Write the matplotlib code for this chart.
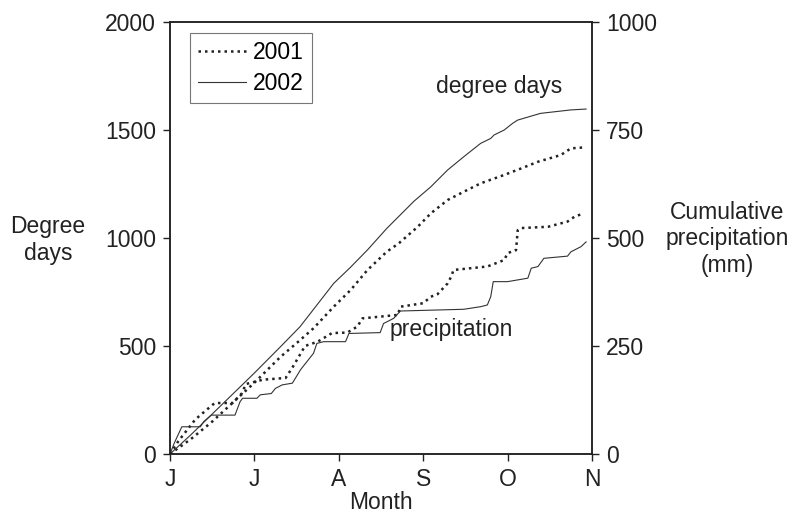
import matplotlib
matplotlib.use("Agg")
import matplotlib.pyplot as plt
from matplotlib.lines import Line2D

plt.rcParams['font.family'] = ['Liberation Sans', 'DejaVu Sans']

# x positions in months from 1 June (0 = J, 1 = J, 2 = A, 3 = S, 4 = O, 5 = N)
month_ticks = [0, 1, 2, 3, 4, 5]
month_labels = ["J", "J", "A", "S", "O", "N"]

# Degree days (left axis)
dd2001_x = [0, 0.25, 0.5, 0.75, 1.0, 1.31, 1.52, 1.70, 1.94, 2.14, 2.34, 2.57, 2.71, 2.93, 3.09, 3.29,
            3.48, 3.68, 3.96, 4.16, 4.36, 4.63, 4.75, 4.93]
dd2001_y = [0, 70, 150, 240, 330, 450, 520, 582, 682, 759, 852, 937, 975, 1050, 1114, 1176,
            1214, 1253, 1292, 1322, 1353, 1384, 1415, 1420]

dd2002_x = [0, 0.25, 0.5, 0.75, 1.0, 1.31, 1.54, 1.94, 2.14, 2.34, 2.57, 2.89, 3.09, 3.29, 3.48, 3.68,
            3.8, 3.84, 3.96, 4.06, 4.12, 4.39, 4.75, 4.93]
dd2002_y = [0, 90, 185, 280, 375, 497, 589, 790, 865, 945, 1045, 1170, 1237, 1315, 1376, 1438,
            1461, 1477, 1500, 1531, 1546, 1577, 1593, 1597]

# Cumulative precipitation, mm (right axis)
pr2001_x = [0, 0.1, 0.2, 0.3, 0.42, 0.53, 0.74, 0.85, 0.9, 1.1, 1.37, 1.45, 1.6, 1.75, 1.92, 2.1, 2.22, 2.28,
            2.49, 2.7, 2.73, 3.0, 3.09, 3.17, 3.29, 3.33, 3.36, 3.76, 3.96, 4.0, 4.1, 4.12, 4.16, 4.48,
            4.71, 4.79, 4.9]
pr2001_y = [0, 30, 55, 80, 100, 118, 118, 140, 162, 172, 176, 200, 250, 260, 280, 281, 295, 314,
            318, 322, 341, 349, 364, 370, 395, 410, 426, 434, 449, 465, 472, 518, 523, 526,
            538, 549, 557]

pr2002_x = [0, 0.05, 0.14, 0.36, 0.4, 0.49, 0.77, 0.83, 0.86, 1.03, 1.07, 1.2, 1.25, 1.33, 1.45, 1.55, 1.70,
            1.74, 1.82, 2.08, 2.12, 2.49, 2.53, 2.65, 2.73, 3.48, 3.68, 3.76, 3.8, 3.83, 4.0, 4.24, 4.28,
            4.36, 4.43, 4.71, 4.75, 4.87, 4.93]
pr2002_y = [0, 25, 63, 63, 75, 90, 90, 121, 129, 129, 137, 140, 152, 160, 164, 196, 233,
            256, 260, 260, 279, 281, 302, 314, 331, 335, 341, 345, 364, 399, 399, 407, 430,
            434, 453, 458, 468, 480, 491]

FS = 16.5

fig = plt.figure(figsize=(7.99, 5.16), dpi=100)
ax = fig.add_axes([170/799, 62/516, 422/799, 432/516])
ax2 = ax.twinx()

dot_style = dict(color="#222222", lw=1.8, linestyle=(0, (1, 1.6)))
solid_style = dict(color="#333333", lw=0.8, linestyle="-")

ax.plot(dd2001_x, dd2001_y, **dot_style)
ax.plot(dd2002_x, dd2002_y, **solid_style)
ax2.plot(pr2001_x, pr2001_y, **dot_style)
ax2.plot(pr2002_x, pr2002_y, **solid_style)

ax.set_xlim(0, 5)
ax.set_ylim(0, 2000)
ax2.set_ylim(0, 1000)
ax.set_xticks(month_ticks)
ax.set_xticklabels(month_labels)
ax.set_yticks([0, 500, 1000, 1500, 2000])
ax2.set_yticks([0, 250, 500, 750, 1000])

for a in (ax, ax2):
    a.tick_params(direction="out", length=5, width=1, labelsize=FS, pad=5, colors="#222222")
    for s in a.spines.values():
        s.set_linewidth(1.1)
        s.set_color("#222222")
ax.tick_params(axis="x", pad=5)

ax.set_xlabel("Month", fontsize=FS, labelpad=0, color="#222222")

fig.text(48/799, 1 - 240/516, "Degree\ndays", fontsize=FS, ha="center", va="center",
         multialignment="center", color="#222222")
fig.text(727/799, 1 - 239/516, "Cumulative\nprecipitation\n(mm)", fontsize=FS, ha="center",
         va="center", multialignment="center", color="#222222")

ax.text(3.15, 1700, "degree days", fontsize=FS, ha="left", va="center", color="#222222")
ax.text(2.6, 575, "precipitation", fontsize=FS, ha="left", va="center", color="#222222")

handles = [Line2D([], [], **dot_style), Line2D([], [], **solid_style)]
leg = ax.legend(handles, ["2001", "2002"], loc="upper left", bbox_to_anchor=(0.047, 0.975),
                fontsize=FS, frameon=True, fancybox=False, edgecolor="#777777", framealpha=1,
                handlelength=2.1, handletextpad=0.3, labelspacing=0.35, borderpad=0.35,
                borderaxespad=0)
leg.get_frame().set_linewidth(0.8)

fig.savefig("out.png", dpi=100)
